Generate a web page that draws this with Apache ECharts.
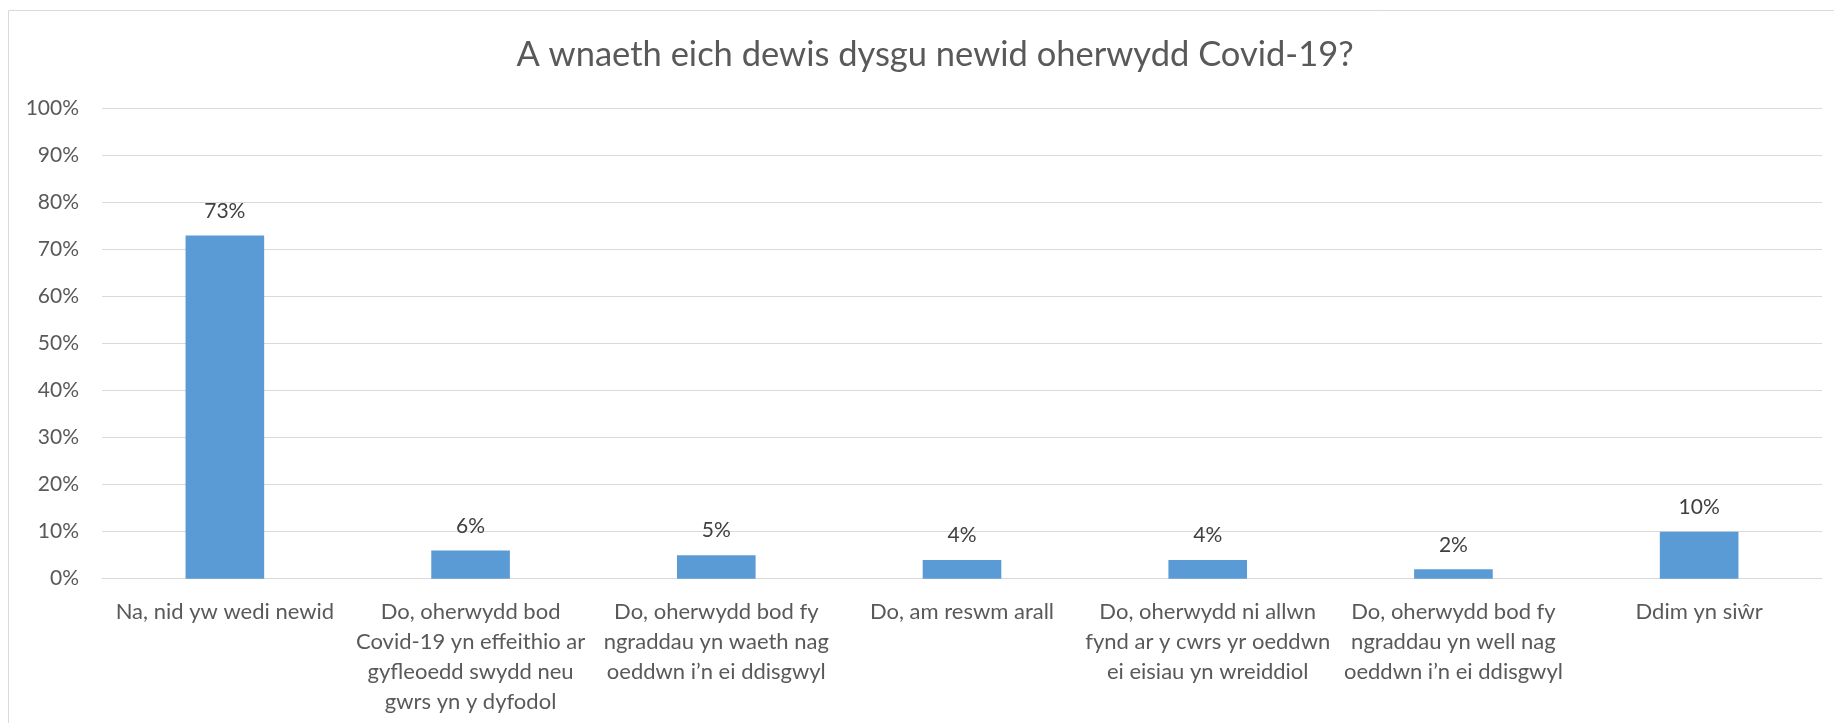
<!DOCTYPE html>
<html><head><meta charset="utf-8">
<script src="https://cdn.jsdelivr.net/npm/echarts@6/dist/echarts.min.js"></script>
<style>html,body{margin:0;padding:0;background:#fff}#c{width:1834px;height:723px}</style>
</head><body><div id="c"></div>
<script>
const titleText = 'A wnaeth eich dewis dysgu newid oherwydd Covid-19?';
const categories = [
  'Na, nid yw wedi newid',
  'Do, oherwydd bod\nCovid-19 yn effeithio ar\ngyfleoedd swydd neu\ngwrs yn y dyfodol',
  'Do, oherwydd bod fy\nngraddau yn waeth nag\noeddwn i\u2019n ei ddisgwyl',
  'Do, am reswm arall',
  'Do, oherwydd ni allwn\nfynd ar y cwrs yr oeddwn\nei eisiau yn wreiddiol',
  'Do, oherwydd bod fy\nngraddau yn well nag\noeddwn i\u2019n ei ddisgwyl',
  'Ddim yn siŵr'
];
const values = [73, 6, 5, 4, 4, 2, 10];
const yTicks = {min: 0, max: 100, interval: 10};

const FONT = 'Lato';
const chart = echarts.init(document.getElementById('c'));
chart.setOption({
  animation: false,
  backgroundColor: '#fff',
  graphic: [{
    type: 'rect', silent: true,
    shape: {x: 8.5, y: 10.5, width: 1900, height: 800},
    style: {fill: 'none', stroke: '#d9d9d9', lineWidth: 1}
  }],
  title: {
    text: titleText, left: 930, textAlign: 'center', top: 32,
    textStyle: {fontFamily: FONT, fontSize: 34.5, fontWeight: 'normal', color: '#595959'}
  },
  grid: {left: 102, right: 12, top: 108.7, bottom: 144.3, containLabel: false},
  xAxis: {
    type: 'category', data: categories,
    axisLine: {lineStyle: {color: '#d9d9d9', width: 1}},
    axisTick: {show: false},
    axisLabel: {interval: 0, margin: 18, fontFamily: FONT, fontSize: 22, color: '#595959', lineHeight: 30, align: 'center'}
  },
  yAxis: {
    type: 'value', min: yTicks.min, max: yTicks.max, interval: yTicks.interval,
    axisLine: {show: false}, axisTick: {show: false},
    axisLabel: {formatter: '{value}%', margin: 23, fontFamily: FONT, fontSize: 21, color: '#595959'},
    splitLine: {lineStyle: {color: '#d9d9d9', width: 1}}
  },
  series: [{
    type: 'bar', data: values, barCategoryGap: '68%',
    itemStyle: {color: '#5b9bd5'},
    label: {show: true, position: 'top', distance: 14, formatter: '{c}%', fontFamily: FONT, fontSize: 21, color: '#404040'}
  }]
});
</script></body></html>
